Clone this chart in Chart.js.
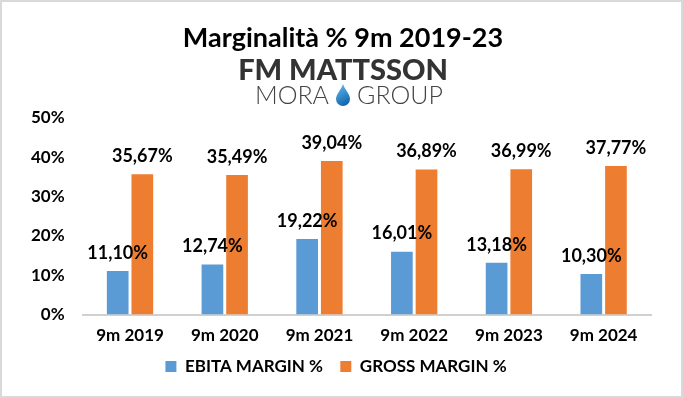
<!DOCTYPE html>
<html>
<head>
<meta charset="utf-8">
<script src="https://cdn.jsdelivr.net/npm/chart.js@4"></script>
<style>
html,body{margin:0;padding:0;background:#fff;}
#wrap{position:relative;width:679px;height:394px;border:2px solid #d9d9d9;}
</style>
</head>
<body>
<div id="wrap"><canvas id="Chart" width="679" height="394"></canvas></div>
<script>
const labels = ['9m 2019','9m 2020','9m 2021','9m 2022','9m 2023','9m 2024'];
const ebita = [11.10, 12.74, 19.22, 16.01, 13.18, 10.30];
const gross = [35.67, 35.49, 39.04, 36.89, 36.99, 37.77];
const yTicks = [0, 10, 20, 30, 40, 50];

const FONT = 'Lato, "Open Sans", sans-serif';

// titolo + logo disegnati a mano
const header = {
    id: 'header',
    afterDraw(chart) {
        const c = chart.ctx;
        const cx = 341;
        c.save();
        c.textAlign = 'center';
        c.textBaseline = 'middle';
        c.fillStyle = '#000';
        c.font = 'bold 27px ' + FONT;
        c.fillText('Marginalità % 9m 2019-23', cx, 36);
        c.fillStyle = '#333';
        c.font = '900 29px ' + FONT;
        c.fillText('FM MATTSSON', cx, 69);
        c.font = '300 25px ' + FONT;
        c.fillStyle = '#444';
        c.textAlign = 'right';
        c.fillText('MORA', cx - 14, 94);
        c.textAlign = 'left';
        c.fillText('GROUP', cx + 14, 94);
        // goccia
        const g = c.createLinearGradient(cx - 6, 84, cx + 6, 103);
        g.addColorStop(0, '#5fb4ea');
        g.addColorStop(1, '#0a5fa8');
        c.fillStyle = g;
        c.beginPath();
        c.moveTo(cx, 82);
        c.bezierCurveTo(cx + 2, 88, cx + 7, 92, cx + 7, 97);
        c.arc(cx, 97, 7, 0, Math.PI, false);
        c.bezierCurveTo(cx - 7, 92, cx - 2, 88, cx, 82);
        c.fill();
        c.restore();
    }
};

const valueLabels = {
    id: 'valueLabels',
    afterDatasetsDraw(chart) {
        const c = chart.ctx;
        c.save();
        c.font = 'bold 18px ' + FONT;
        c.fillStyle = '#000';
        c.textAlign = 'center';
        c.textBaseline = 'bottom';
        chart.data.datasets.forEach((ds, i) => {
            chart.getDatasetMeta(i).data.forEach((bar, j) => {
                const txt = ds.data[j].toFixed(2).replace('.', ',') + '%';
                c.fillText(txt, bar.x, bar.y - 9);
            });
        });
        c.restore();
    }
};

new Chart(document.getElementById('Chart'), {
    type: 'bar',
    data: {
        labels: labels,
        datasets: [{
            label: 'EBITA MARGIN %',
            data: ebita,
            backgroundColor: '#5b9bd5',
            categoryPercentage: 0.52,
            barPercentage: 0.88
        }, {
            label: 'GROSS MARGIN %',
            data: gross,
            backgroundColor: '#ed7d31',
            categoryPercentage: 0.52,
            barPercentage: 0.88
        }]
    },
    options: {
        responsive: false,
        animation: false,
        layout: { padding: { top: 116, left: 19, right: 30, bottom: 11 } },
        scales: {
            y: {
                min: 0,
                max: 50,
                afterBuildTicks: axis => { axis.ticks = yTicks.map(v => ({ value: v })); },
                grid: { display: false },
                border: { display: false },
                ticks: {
                    padding: 10,
                    color: '#000',
                    font: { family: FONT, size: 17, weight: 'bold' },
                    callback: v => v + '%'
                }
            },
            x: {
                grid: { display: false },
                border: { color: '#d0d0d0', width: 2 },
                ticks: {
                    padding: 3,
                    color: '#000',
                    font: { family: FONT, size: 17, weight: 'bold' }
                }
            }
        },
        plugins: {
            legend: {
                position: 'bottom',
                labels: {
                    boxWidth: 11,
                    boxHeight: 11,
                    padding: 9,
                    color: '#000',
                    font: { family: FONT, size: 17, weight: 'bold' },
                    generateLabels: chart => {
                        const items = Chart.defaults.plugins.legend.labels.generateLabels(chart);
                        items[0].text += '\u00a0\u00a0';
                        return items;
                    }
                }
            },
            tooltip: { enabled: false }
        }
    },
    plugins: [header, valueLabels]
});
</script>
</body>
</html>
